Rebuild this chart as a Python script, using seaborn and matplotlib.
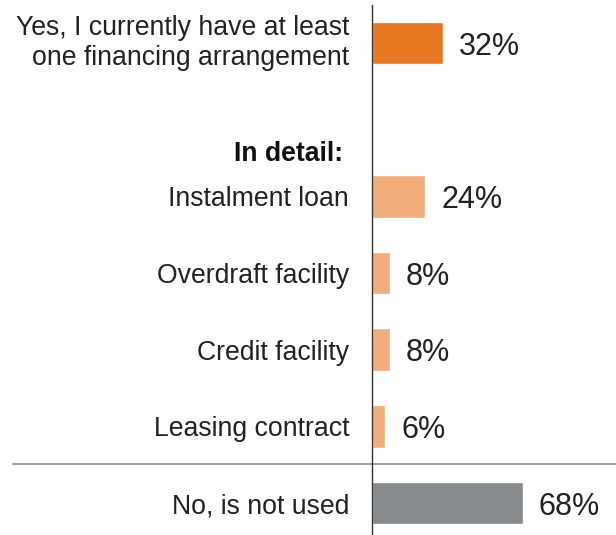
import matplotlib
matplotlib.use("Agg")
import matplotlib.pyplot as plt
import seaborn as sns
import pandas as pd

categories = [
    "Yes, I currently have at least\none financing arrangement",
    "Instalment loan",
    "Overdraft facility",
    "Credit facility",
    "Leasing contract",
    "No, is not used",
]
values = [32, 24, 8, 8, 6, 68]
colors = ["#E87722", "#F2AE7A", "#F2AE7A", "#F2AE7A", "#F2AE7A", "#888B8D"]
section_label = "In detail:"

sns.set_theme(style="white")
plt.rcParams["font.family"] = ["Liberation Sans", "DejaVu Sans"]

df = pd.DataFrame({"category": categories, "value": values})
# blank slot between the summary row and the detail rows
order = [categories[0], " "] + categories[1:]
palette = dict(zip(categories, colors))

fig = plt.figure(figsize=(6.16, 5.35), dpi=100)
ax = fig.add_axes([372 / 616, 0, 244 / 616, 530 / 535])

sns.barplot(data=df, x="value", y="category", hue="category", order=order,
            hue_order=categories, palette=palette, width=0.56, legend=False,
            saturation=1, ax=ax)

for cont in ax.containers:
    texts = ax.bar_label(cont, fmt="%d%%", padding=11.5, fontsize=22,
                         color="#222222")
    for t in texts:
        t.set_verticalalignment("center_baseline")

ax.set_xlim(0, 110)
ax.set_ylim(6.417, -0.496)
ax.set_xlabel("")
ax.set_ylabel("")
ax.set_xticks([])
ax.tick_params(axis="y", length=0, pad=16.5, labelsize=19.2, labelcolor="#222222")
for lab in ax.get_yticklabels():
    lab.set_linespacing(1.2)
    lab.set_horizontalalignment("right")
    lab.set_multialignment("right")
    if "\n" in lab.get_text():
        lab.set_verticalalignment("center")

for side in ["top", "right", "bottom"]:
    ax.spines[side].set_visible(False)
ax.spines["left"].set_color("#333333")
ax.spines["left"].set_linewidth(1.0)

ax.text(-13.1, 1.45, section_label, ha="right", va="center",
        fontsize=19.2, fontweight="bold", color="#111111")

# separator above the "No" row
ax.axhline(5.49, xmin=(13 - 372) / 244, xmax=1, color="#9A9A9A", lw=1.3,
           clip_on=False)

fig.savefig("out.png", dpi=100)
